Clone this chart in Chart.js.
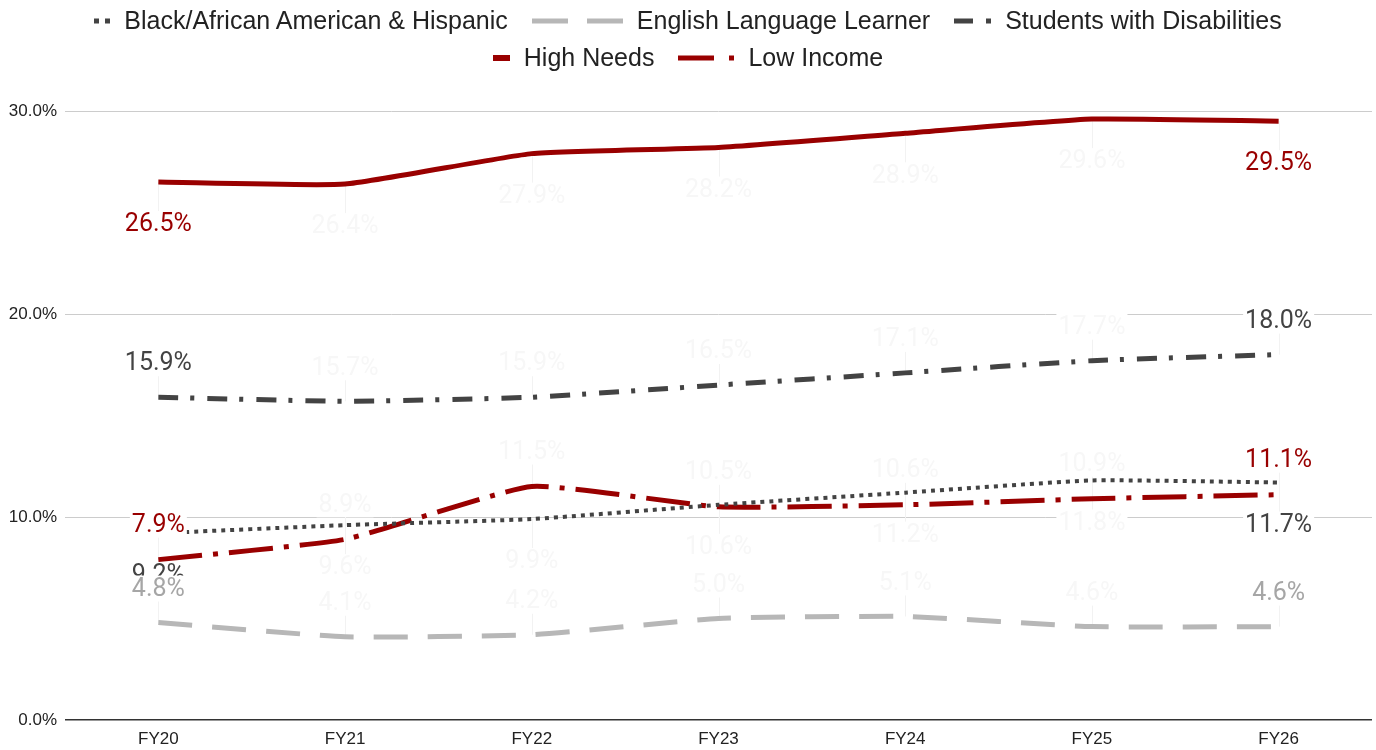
<!DOCTYPE html>
<html>
<head>
<meta charset="utf-8">
<script src="https://cdn.jsdelivr.net/npm/chart.js@4.4.1/dist/chart.umd.min.js"></script>
<style>
  html, body { margin: 0; padding: 0; background: #fff; }
  #wrap { position: relative; width: 1376px; height: 750px; }
  #legend {
    position: absolute; top: 0; left: 0; width: 1376px; padding-top: 2px;
    display: flex; flex-wrap: wrap; justify-content: center; column-gap: 24px;
    font-family: 'Liberation Sans', Arial, sans-serif; font-size: 25px;
    line-height: 37px; color: #222;
  }
  #legend .item { display: flex; align-items: center; white-space: nowrap; }
  #legend canvas { margin-right: 14px; }
  #legend .break { flex-basis: 100%; height: 0; }
</style>
</head>
<body>
<div id="wrap">
  <div id="legend"></div>
  <canvas id="chart"></canvas>
</div>
<script>
// values (percent)
const years = ["FY20", "FY21", "FY22", "FY23", "FY24", "FY25", "FY26"];
const blackHispanic = [9.2, 9.6, 9.9, 10.6, 11.2, 11.8, 11.7];
const englishLearner = [4.8, 4.1, 4.2, 5.0, 5.1, 4.6, 4.6];
const disabilities = [15.9, 15.7, 15.9, 16.5, 17.1, 17.7, 18.0];
const highNeeds = [26.5, 26.4, 27.9, 28.2, 28.9, 29.6, 29.5];
const lowIncome = [7.9, 8.9, 11.5, 10.5, 10.6, 10.9, 11.1];
const yTicks = [0, 10, 20, 30];

const RED = "#990000";
const DARK = "#434343";
const LIGHT = "#b7b7b7";

// legend line samples (dash pattern, length)
const legendSamples = [
    { dash: [5, 6], len: 16, width: 5 },
    { dash: [36, 19], len: 91, width: 5 },
    { dash: [19, 13, 5, 20], len: 37, width: 5 },
    { dash: [], len: 17, width: 6 },
    { dash: [36, 15, 5, 20], len: 56, width: 5 }
];

function sampleCanvas(color, s) {
    let c = document.createElement("canvas");
    c.width = s.len;
    c.height = 8;
    let g = c.getContext("2d");
    g.strokeStyle = color;
    g.lineWidth = s.width;
    g.setLineDash(s.dash);
    g.beginPath();
    g.moveTo(0, 4);
    g.lineTo(s.len, 4);
    g.stroke();
    return c;
}

function series(label, data, color, dash, width, labelColor, labelOffset) {
    return {
        label: label,
        data: data,
        borderColor: color,
        backgroundColor: color,
        borderDash: dash,
        borderWidth: width,
        borderCapStyle: "butt",
        pointRadius: 0,
        pointHoverRadius: 0,
        tension: 0.15,
        labelColor: labelColor,
        labelOffset: labelOffset
    };
}

// html legend, two rows like the sheet export
const htmlLegend = {
    id: "htmlLegend",
    afterUpdate(chart) {
        let box = document.getElementById("legend");
        box.innerHTML = "";
        let items = chart.options.plugins.legend.labels.generateLabels(chart);
        items.forEach((it, i) => {
            let ds = chart.data.datasets[it.datasetIndex];
            let div = document.createElement("div");
            div.className = "item";
            div.appendChild(sampleCanvas(ds.borderColor, legendSamples[it.datasetIndex]));
            let span = document.createElement("span");
            span.textContent = it.text;
            div.appendChild(span);
            box.appendChild(div);
            if (i === 2) {
                let br = document.createElement("div");
                br.className = "break";
                box.appendChild(br);
            }
        });
    }
};

// value labels with leader lines; inner ones are almost white in the source
const pointLabels = {
    id: "pointLabels",
    beforeDatasetsDraw(chart) {
        let ctx = chart.ctx;
        ctx.save();
        ctx.strokeStyle = "#f2f2f2";
        ctx.lineWidth = 1;
        chart.data.datasets.forEach((ds, i) => {
            chart.getDatasetMeta(i).data.forEach(pt => {
                let end = pt.y + ds.labelOffset + (ds.labelOffset > 0 ? -12 : 12);
                ctx.beginPath();
                ctx.moveTo(Math.round(pt.x) + 0.5, pt.y);
                ctx.lineTo(Math.round(pt.x) + 0.5, end);
                ctx.stroke();
            });
        });
        ctx.restore();
    },
    afterDatasetsDraw(chart) {
        let ctx = chart.ctx;
        ctx.save();
        ctx.font = "25px Roboto";
        ctx.textAlign = "center";
        ctx.textBaseline = "middle";
        chart.data.datasets.forEach((ds, i) => {
            let pts = chart.getDatasetMeta(i).data;
            pts.forEach((pt, j) => {
                let text = ds.data[j].toFixed(1) + "%";
                let y = pt.y + ds.labelOffset;
                let w = ctx.measureText(text).width;
                let edge = j === 0 || j === pts.length - 1;
                ctx.fillStyle = "#ffffff";
                ctx.fillRect(pt.x - w / 2 - 2, y - 13, w + 4, 26);
                ctx.fillStyle = edge ? ds.labelColor : "#f7f7f7";
                ctx.fillText(text, pt.x, y + 1);
            });
        });
        ctx.restore();
    }
};

new Chart(document.getElementById("chart"), {
    type: "line",
    data: {
        labels: years,
        datasets: [
            series("Black/African American & Hispanic", blackHispanic, DARK, [4, 5], 4, DARK, 42),
            series("English Language Learner", englishLearner, LIGHT, [34, 20], 5, "#a6a6a6", -34),
            series("Students with Disabilities", disabilities, DARK, [20, 12, 4, 13], 5, DARK, -34),
            series("High Needs", highNeeds, RED, [], 5, RED, 42),
            series("Low Income", lowIncome, RED, [44, 11, 5, 11], 5, RED, -35)
        ]
    },
    options: {
        responsive: true,
        maintainAspectRatio: false,
        animation: false,
        layout: { padding: { top: 111, right: 4, bottom: 0, left: 0 } },
        plugins: {
            tooltip: { enabled: false },
            legend: { display: false }
        },
        scales: {
            x: {
                offset: true,
                grid: { display: false, drawTicks: false },
                border: { display: false },
                ticks: {
                    padding: 9,
                    color: "#222222",
                    font: { family: "'Liberation Sans', Arial, sans-serif", size: 17 }
                },
                afterFit(scale) { scale.height = 30; }
            },
            y: {
                min: 0,
                max: 30,
                afterBuildTicks(scale) { scale.ticks = yTicks.map(v => ({ value: v })); },
                grid: {
                    drawTicks: false,
                    color: c => c.tick && c.tick.value === 0 ? "#333333" : "#cccccc",
                    lineWidth: c => c.tick && c.tick.value === 0 ? 1.5 : 1
                },
                border: { display: false },
                ticks: {
                    padding: 8,
                    color: "#222222",
                    font: { family: "'Liberation Sans', Arial, sans-serif", size: 17 },
                    callback: v => v.toFixed(1) + "%"
                },
                afterFit(scale) { scale.width = 65; }
            }
        }
    },
    plugins: [htmlLegend, pointLabels]
});
</script>
</body>
</html>
